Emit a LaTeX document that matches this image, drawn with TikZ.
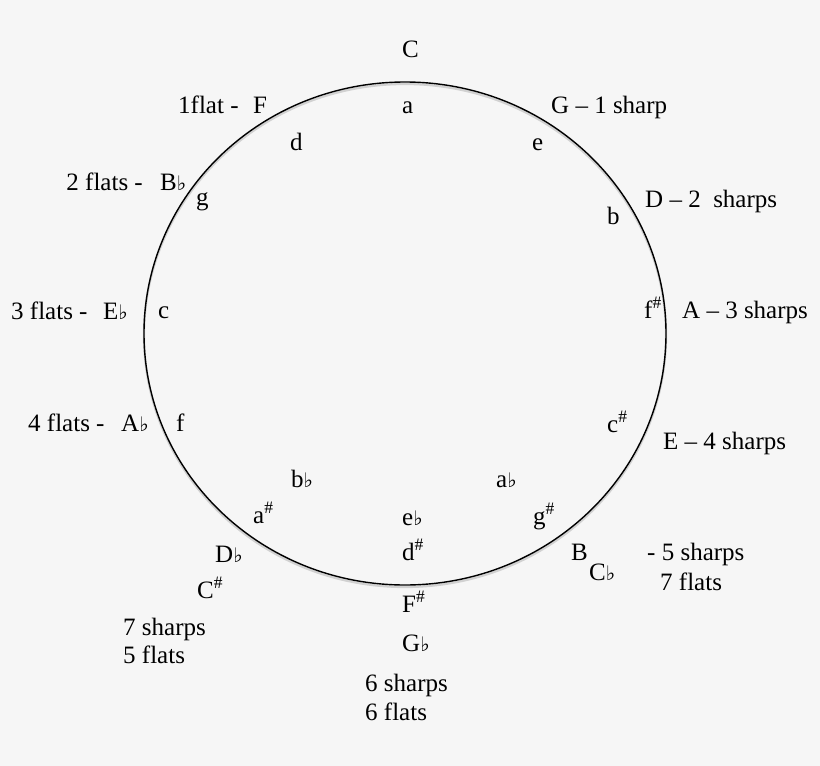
\documentclass[tikz,border=0pt]{standalone}
\usepackage{fontspec}
\setmainfont{Liberation Serif}
\newfontfamily\flatfont{DejaVu Sans}
\definecolor{bgc}{RGB}{246,246,246}
\newcommand{\fl}{{\flatfont\fontsize{20}{20}\selectfont ♭}}
\newcommand{\sh}{\textsuperscript{\#}}
\begin{document}
\begin{tikzpicture}[x=1pt,y=-1pt,
  lbl/.style={anchor=base west,inner sep=0pt,font=\fontsize{25}{30}\selectfont},
  lble/.style={anchor=base east,inner sep=0pt,font=\fontsize{25}{30}\selectfont}]
\fill[bgc] (0,0) rectangle (820,766);
\useasboundingbox (0,0) rectangle (820,766);
\draw[black!18,line width=2.2pt] (405,335.5) ellipse [x radius=261pt,y radius=251.5pt];
\draw[line width=1.4pt] (405,333.5) ellipse [x radius=261pt,y radius=251.5pt];
% outer majors
\node[lbl] (C) at (402,57) {C};
\node[lbl] (onef) at (178,113) {1flat -};
\node[lbl] (F) at (253,113) {F};
\node[lbl] (G) at (551,113) {G – 1 sharp};
\node[lble] (twof) at (143,190) {2 flats -};
\node[lbl] (Bb) at (160,190) {B\fl};
\node[lbl] (D) at (645,207) {D – 2\ \ sharps};
\node[lbl] (threef) at (11,319) {3 flats -};
\node[lbl] (Eb) at (103,319) {E\fl};
\node[lbl] (A) at (682,318) {A – 3 sharps};
\node[lbl] (fourf) at (28,431) {4 flats -};
\node[lbl] (Ab) at (121,431) {A\fl};
\node[lbl] (E) at (663,449) {E – 4 sharps};
\node[lbl] (Db) at (215,562) {D\fl};
\node[lbl] (Cs) at (197,598) {C\sh};
\node[lbl] (sevs) at (123,635) {7 sharps};
\node[lbl] (fivf) at (123,663) {5 flats};
\node[lbl] (Fs) at (402,612) {F\sh};
\node[lbl] (Gb) at (402,651) {G\fl};
\node[lbl] (sixs) at (365,691) {6 sharps};
\node[lbl] (sixf) at (365,720) {6 flats};
\node[lbl] (B) at (571,560) {B};
\node[lbl] (Cb) at (589,580) {C\fl};
\node[lbl] (fivs) at (647,560) {- 5 sharps};
\node[lbl] (sevf) at (660,590) {7 flats};
% inner minors
\node[lbl] (ma) at (402,113) {a};
\node[lbl] (md) at (290,150) {d};
\node[lbl] (me) at (532,150) {e};
\node[lbl] (mg) at (196,205) {g};
\node[lbl] (mb) at (607,224) {b};
\node[lbl] (mc) at (158,318) {c};
\node[lbl] (mfs) at (644,318) {f\sh};
\node[lbl] (mf) at (176,431) {f};
\node[lbl] (mcs) at (607,432) {c\sh};
\node[lbl] (mbb) at (291,487) {b\fl};
\node[lbl] (mab) at (496,487) {a\fl};
\node[lbl] (mas) at (253,523) {a\sh};
\node[lbl] (meb) at (402,525) {e\fl};
\node[lbl] (mgs) at (533,524) {g\sh};
\node[lbl] (mds) at (402,560) {d\sh};
\end{tikzpicture}
\end{document}
